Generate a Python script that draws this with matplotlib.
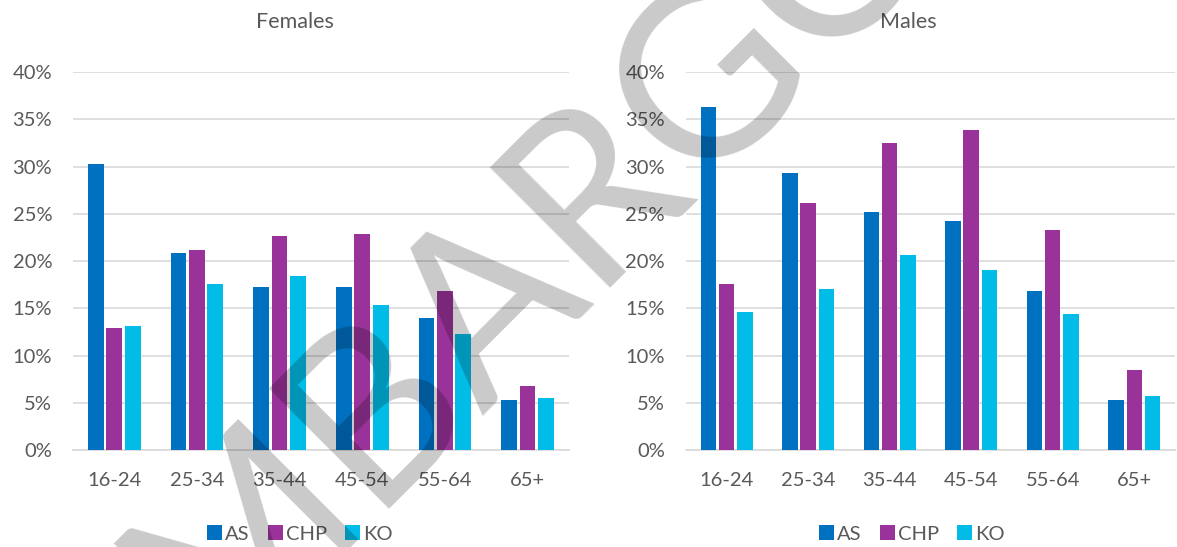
import matplotlib.pyplot as plt
import numpy as np
from matplotlib.ticker import PercentFormatter

# Share of each age band by group, split by sex (percent)
ages = ["16-24", "25-34", "35-44", "45-54", "55-64", "65+"]
groups = ["AS", "CHP", "KO"]
colors = ["#0070C0", "#993399", "#00BCE6"]

females_as = [30.3, 20.8, 17.2, 17.2, 14.0, 5.3]
females_chp = [12.9, 21.2, 22.7, 22.9, 16.8, 6.8]
females_ko = [13.1, 17.6, 18.4, 15.3, 12.3, 5.5]

males_as = [36.3, 29.3, 25.2, 24.2, 16.8, 5.3]
males_chp = [17.6, 26.1, 32.5, 33.9, 23.3, 8.5]
males_ko = [14.6, 17.0, 20.6, 19.1, 14.4, 5.7]

plt.rcParams["font.family"] = ["Lato", "DejaVu Sans"]
text_col = "#595959"
grid_col = "#D9D9D9"

fig = plt.figure(figsize=(11.77, 5.47), dpi=100)
ax_f = fig.add_axes([0.062, 0.1773, 0.4214, 0.691])
ax_m = fig.add_axes([0.5828, 0.1773, 0.4155, 0.691])

x = np.arange(len(ages))
offset = 0.222
width = 0.19


def draw(ax, series, title, title_x):
    for j, vals in enumerate(series):
        ax.bar(x + (j - 1) * offset, vals, width, color=colors[j],
               label=groups[j], zorder=3)
    ax.set_xlim(-0.5, len(ages) - 0.5)
    ax.set_ylim(0, 40)
    ax.set_yticks(np.arange(0, 41, 5))
    ax.yaxis.set_major_formatter(PercentFormatter(decimals=0))
    ax.set_xticks(x)
    ax.set_xticklabels(ages)
    ax.grid(axis="y", color=grid_col, linewidth=1.2, zorder=0)
    for s in ["top", "right", "left"]:
        ax.spines[s].set_visible(False)
    ax.spines["bottom"].set_color(grid_col)
    ax.spines["bottom"].set_linewidth(1.2)
    ax.tick_params(axis="both", length=0, labelsize=14.5, labelcolor=text_col)
    ax.tick_params(axis="x", pad=16)
    ax.tick_params(axis="y", pad=15)
    fig.text(title_x, 1 - 22 / 547, title, ha="center", va="center",
             fontsize=15.5, color=text_col)


draw(ax_f, [females_as, females_chp, females_ko], "Females", 295 / 1177)
draw(ax_m, [males_as, males_chp, males_ko], "Males", 908 / 1177)

for ax, cx in [(ax_f, 300 / 1177), (ax_m, 912 / 1177)]:
    handles, labels = ax.get_legend_handles_labels()
    fig.legend(handles, labels, loc="center", bbox_to_anchor=(cx, 1 - 534 / 547),
               ncol=3, frameon=False, fontsize=14.5, labelcolor=text_col,
               handlelength=0.75, handleheight=0.75, handletextpad=0.15,
               columnspacing=0.9, borderaxespad=0)

# diagonal watermark across both panels
fig.text(486 / 1177, 1 - 296 / 547, "EMBARGO", rotation=45, ha="center",
         va="center", rotation_mode="anchor", fontsize=170, color="black",
         alpha=0.21, zorder=10)

fig.savefig("out.png", dpi=100)
